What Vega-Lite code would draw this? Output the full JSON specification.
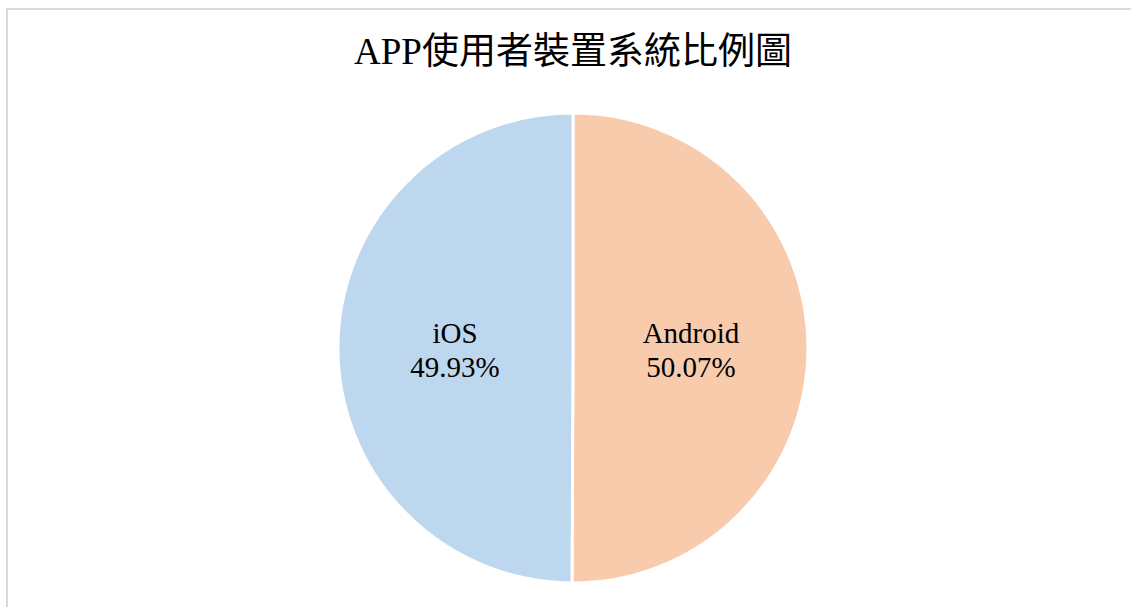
{
  "$schema": "https://vega.github.io/schema/vega-lite/v6.json",
  "autosize": "none",
  "padding": {"left": 7, "top": 9, "right": 0, "bottom": 0},
  "width": 1132,
  "height": 678,
  "background": "white",
  "view": {"stroke": "#d9d9d9", "strokeWidth": 2},
  "title": {
    "text": "APP使用者裝置系統比例圖",
    "anchor": "middle",
    "offset": -64,
    "font": "Liberation Serif, Noto Sans CJK TC",
    "fontSize": 37,
    "fontWeight": "normal",
    "color": "#000000"
  },
  "data": {
    "values": [
      {"os": "Android", "share": 50.07},
      {"os": "iOS", "share": 49.93}
    ]
  },
  "transform": [
    {"calculate": "datum.os + '\\n' + format(datum.share, '.2f') + '%'", "as": "label"}
  ],
  "layer": [
    {
      "data": {"values": [{"frame": 1}]},
      "transform": [],
      "mark": {"type": "rect", "fill": null, "stroke": "#d9d9d9", "strokeWidth": 2},
      "encoding": {}
    },
    {
      "mark": {"type": "arc", "outerRadius": 235, "stroke": "white", "strokeWidth": 3},
      "encoding": {
        "theta": {"field": "share", "type": "quantitative", "stack": true},
        "order": {"field": "os", "type": "nominal", "sort": "ascending"},
        "color": {
          "field": "os",
          "type": "nominal",
          "scale": {"domain": ["Android", "iOS"], "range": ["#F8CBAD", "#BDD7EE"]},
          "legend": null
        }
      }
    },
    {
      "mark": {
        "type": "text",
        "radius": 118,
        "dy": -14,
        "font": "Liberation Serif",
        "fontSize": 29,
        "lineBreak": "\n",
        "lineHeight": 34,
        "color": "#000000",
        "align": "center",
        "baseline": "middle"
      },
      "encoding": {
        "theta": {"field": "share", "type": "quantitative", "stack": true},
        "order": {"field": "os", "type": "nominal", "sort": "ascending"},
        "text": {"field": "label", "type": "nominal"}
      }
    }
  ]
}
